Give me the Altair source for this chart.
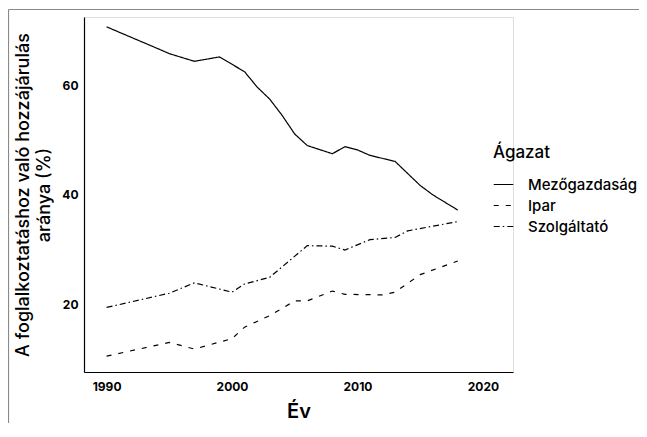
import altair as alt
import pandas as pd

series_names = ["Mezőgazdaság", "Ipar", "Szolgáltató"]

agr_years = [1990, 1994, 1995, 1997, 1999, 2001, 2002, 2003, 2004, 2005, 2006,
             2008, 2009, 2010, 2011, 2013, 2015, 2016, 2018]
agr_vals = [70.7, 66.8, 65.8, 64.4, 65.2, 62.5, 59.7, 57.5, 54.5, 51.1, 49.0,
            47.5, 48.8, 48.2, 47.2, 46.1, 41.7, 40.0, 37.2]

ind_years = [1990, 1995, 1997, 2000, 2001, 2003, 2005, 2006, 2008, 2009, 2012,
             2013, 2015, 2018]
ind_vals = [10.5, 13.0, 11.8, 13.7, 15.8, 17.9, 20.6, 20.6, 22.4, 21.8, 21.7,
            22.2, 25.4, 27.9]

srv_years = [1990, 1995, 1997, 2000, 2001, 2003, 2006, 2008, 2009, 2011, 2013,
             2014, 2018]
srv_vals = [19.4, 22.0, 23.9, 22.2, 23.7, 24.9, 30.7, 30.6, 29.9, 31.8, 32.2,
            33.4, 35.1]

x_ticks = [1990, 2000, 2010, 2020]
y_ticks = [20, 40, 60]

rows = []
for name, ys, vs in zip(series_names,
                        [agr_years, ind_years, srv_years],
                        [agr_vals, ind_vals, srv_vals]):
    for y, v in zip(ys, vs):
        rows.append({"Év": y, "Arány": v, "Ágazat": name})
df = pd.DataFrame(rows)

FONT = "Inter"

lines = alt.Chart(df).mark_line(color="black", strokeWidth=1.2).encode(
    x=alt.X("Év:Q",
            scale=alt.Scale(domain=[1988.2, 2022.4], nice=False, zero=False),
            axis=alt.Axis(values=x_ticks, format="d", title="Év",
                          grid=False, ticks=False, labelPadding=9,
                          labelFontSize=12, labelFontWeight="bold",
                          titleFontSize=20, titleFontWeight=600,
                          titlePadding=9, domainColor="black",
                          domainWidth=1.2, labelColor="black",
                          titleColor="black")),
    y=alt.Y("Arány:Q",
            scale=alt.Scale(domain=[7.6, 72.5], nice=False, zero=False),
            axis=alt.Axis(values=y_ticks, format="d",
                          title=["A foglalkoztatáshoz való hozzájárulás",
                                 "aránya (%)"],
                          grid=False, ticks=False, labelPadding=6,
                          labelFontSize=12, labelFontWeight="bold",
                          titleFontSize=18, titleFontWeight=500,
                          titleLineHeight=21, titlePadding=8,
                          domainColor="black", domainWidth=1.2,
                          labelColor="black", titleColor="black")),
    strokeDash=alt.StrokeDash(
        "Ágazat:N",
        scale=alt.Scale(domain=series_names,
                        range=[[1, 0], [5, 7], [6, 3, 1.5, 3]]),
        legend=alt.Legend(orient="none", legendX=409, legendY=128,
                          title="Ágazat", titleFontSize=17,
                          titleFontWeight=500, titlePadding=12,
                          labelFontSize=15, labelFontWeight=500,
                          symbolType="stroke", symbolSize=380,
                          symbolStrokeWidth=1.2, symbolStrokeColor="black",
                          rowPadding=2, labelOffset=14,
                          titleColor="black", labelColor="black")),
    order=alt.Order("Év:Q"),
)

frame_df = pd.DataFrame({"k": [0]})
frame_top = alt.Chart(frame_df).mark_rule(
    color="#8a8a8a", strokeWidth=1.2, clip=False
).encode(x=alt.value(-75.5), x2=alt.value(620), y=alt.value(-7.5))
frame_left = alt.Chart(frame_df).mark_rule(
    color="#8a8a8a", strokeWidth=1.2, clip=False
).encode(x=alt.value(-75.5), y=alt.value(-7.5), y2=alt.value(600))

chart = alt.layer(frame_top, frame_left, lines).properties(
    width=429, height=355,
    autosize=alt.AutoSizeParams(type="none"),
    padding={"left": 76, "top": 9, "right": 126, "bottom": 51},
).configure_view(stroke=None).configure(font=FONT)

chart.save("out.html", embed_options={"renderer": "svg", "actions": False})
